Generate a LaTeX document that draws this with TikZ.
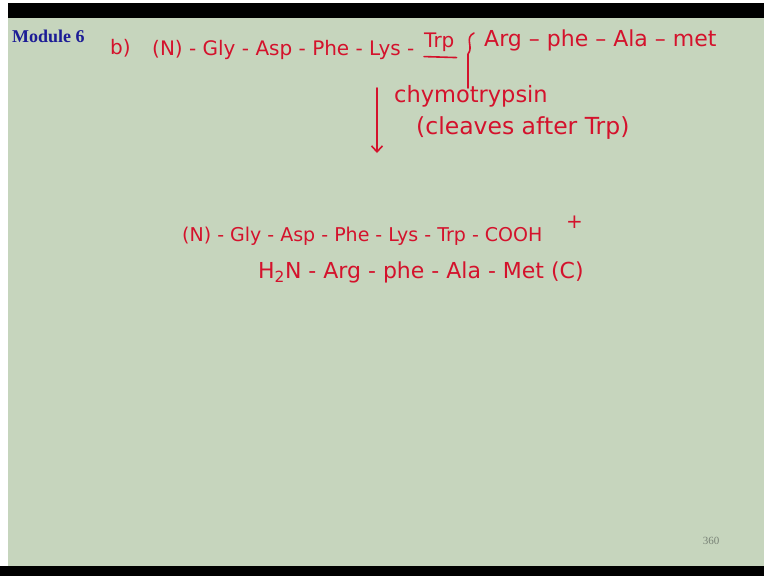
\documentclass[tikz,border=0pt]{standalone}
\usepackage{fontspec}
\setmainfont{Liberation Serif}
\newfontfamily\inkfont[Ligatures=TeX]{DejaVu Sans}
\definecolor{SlideGreen}{RGB}{198,213,189}
\definecolor{InkRed}{RGB}{212,18,44}
\definecolor{ModuleBlue}{RGB}{28,28,150}
\definecolor{PageGray}{RGB}{120,130,118}
\usepackage{tikz}
\usetikzlibrary{arrows.meta, positioning, calc}

\begin{document}
\begin{tikzpicture}[x=1pt, y=-1pt,
	ink/.style={text=InkRed, font=\inkfont\fontsize{#1}{#1}\selectfont, inner sep=0pt, anchor=west},
	ink/.default=19,
	inkline/.style={draw=InkRed, line width=1.6pt, line cap=round, line join=round}]
	% slide frame
	\useasboundingbox (0,0) rectangle (764,576);
	\fill[white] (0,0) rectangle (764,576);
	\fill[black] (8,3) rectangle (764,18);
	\fill[SlideGreen] (8,18) rectangle (764,566);
	\fill[black] (0,566) rectangle (764,576);
	\node[font=\bfseries\fontsize{18}{18}\selectfont, text=ModuleBlue, inner sep=0pt, anchor=west] (module) at (12,36) {Module 6};
	% peptide b)
	\node[ink=20] (part) at (110,48) {b)};
	\node[ink=20] (left) at (152,50) {(N) - Gly - Asp - Phe - Lys -};
	\node[ink=20] (trp) at (424,42) {Trp};
	\node[ink=22] (right) at (484,40) {Arg -- phe -- Ala -- met};
	\draw[inkline] ($(trp.south west)+(0,5)$) -- ($(trp.south east)+(2,6)$);
	% cleavage site
	\coordinate (cuttop) at (474,33);
	\coordinate (cutbot) at (468,88);
	\draw[inkline] (cuttop) .. controls (464,38) and (474,47) .. (468,54) -- (cutbot);
	% enzyme step
	\coordinate (arrtop) at (377,88);
	\coordinate (arrbot) at (377,153);
	\draw[inkline, -{Straight Barb[length=6pt, width=11pt]}] (arrtop) -- (arrbot);
	\node[ink=22.5] (enzyme) at (394,96) {chymotrypsin};
	\node[ink=23.5] (note) at (416,128) {(cleaves after Trp)};
	% products
	\node[ink] (prodN) at (182,236) {(N) - Gly - Asp - Phe - Lys - Trp - COOH};
	\node[ink=20] (plus) at (566,222) {+};
	\node[ink=22] (prodC) at (258,272) {H\textsubscript{2}N - Arg - phe - Ala - Met (C)};
	\node[font=\fontsize{11}{11}\selectfont, text=PageGray, inner sep=0pt] (page) at (711,541) {360};
\end{tikzpicture}
\end{document}
